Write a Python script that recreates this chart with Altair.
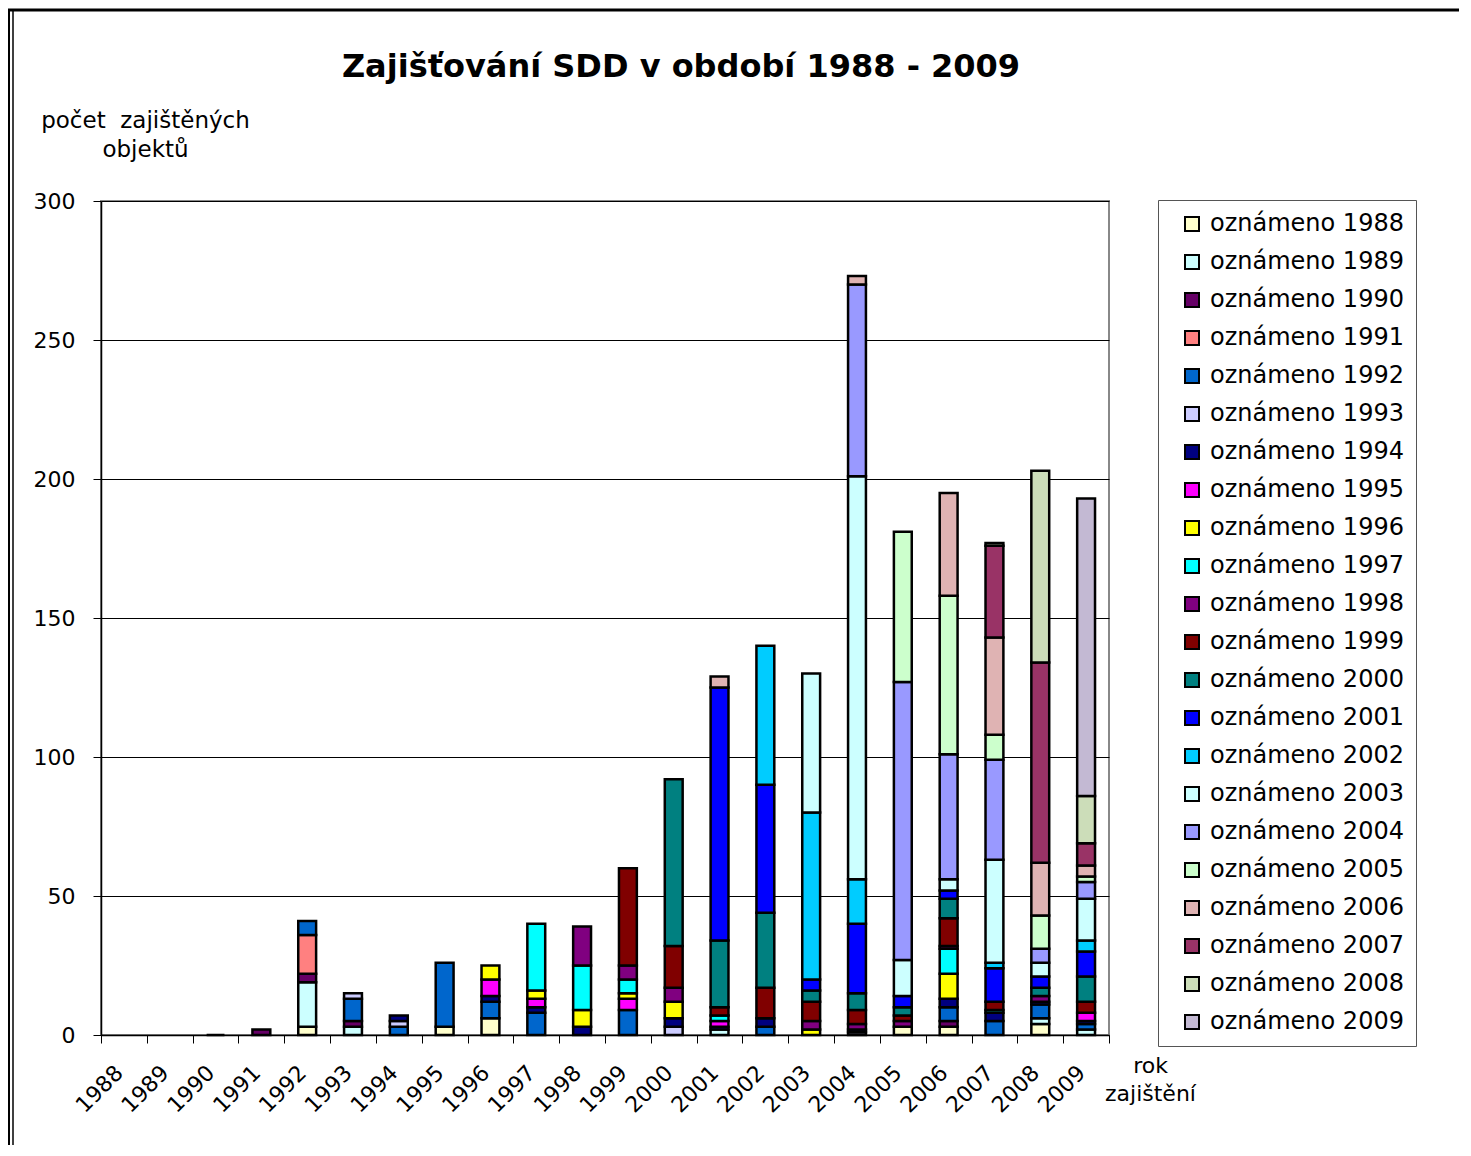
import altair as alt
import pandas as pd

years = [str(y) for y in range(1988, 2010)]
series_names = ["oznámeno " + y for y in years]
N = None

# values per "oznámeno" series, indexed by rok zajištění 1988..2009
s1988 = [N, N, N, N, 3, N, N, 3, 6, N, N, N, N, N, N, N, N, 3, 3, N, 4, N]
s1989 = [N, N, N, N, 16, 3, N, N, N, N, N, N, N, 2, N, N, N, N, N, N, 2, 2]
s1990 = [N, N, 0, 2, 3, 2, N, N, N, N, N, N, N, N, N, N, N, N, 2, N, N, N]
s1991 = [N, N, N, N, 14, N, N, N, N, N, N, N, N, N, N, N, N, N, N, N, N, N]
s1992 = [N, N, N, N, 5, 8, 3, 23, 6, 8, N, 9, N, N, 3, N, N, N, 5, 5, 5, 2]
s1993 = [N, N, N, N, N, 2, 2, N, N, N, N, N, 3, N, N, N, 1, N, N, N, N, N]
s1994 = [N, N, N, N, N, N, 2, N, 2, 2, 3, N, 3, 1, 3, N, 1, N, 3, 3, 1, 1]
s1995 = [N, N, N, N, N, N, N, N, 6, 3, N, 4, N, 2, N, N, N, N, N, N, N, 3]
s1996 = [N, N, N, N, N, N, N, N, 5, 3, 6, 2, 6, N, N, 2, N, N, 9, N, N, N]
s1997 = [N, N, N, N, N, N, N, N, N, 24, 16, 5, N, 2, N, N, N, N, 9, 1, N, N]
s1998 = [N, N, N, N, N, N, N, N, N, N, 14, 5, 5, N, N, 3, 2, 2, 1, N, 2, N]
s1999 = [N, N, N, N, N, N, N, N, N, N, N, 35, 15, 3, 11, 7, 5, 2, 10, 3, N, 4]
s2000 = [N, N, N, N, N, N, N, N, N, N, N, N, 60, 24, 27, 4, 6, 3, 7, N, 3, 9]
s2001 = [N, N, N, N, N, N, N, N, N, N, N, N, N, 91, 46, 4, 25, 4, 3, 12, 4, 9]
s2002 = [N, N, N, N, N, N, N, N, N, N, N, N, N, N, 50, 60, 16, N, N, 2, N, 4]
s2003 = [N, N, N, N, N, N, N, N, N, N, N, N, N, N, N, 50, 145, 13, 4, 37, 5, 15]
s2004 = [N, N, N, N, N, N, N, N, N, N, N, N, N, N, N, N, 69, 100, 45, 36, 5, 6]
s2005 = [N, N, N, N, N, N, N, N, N, N, N, N, N, N, N, N, N, 54, 57, 9, 12, 2]
s2006 = [N, N, N, N, N, N, N, N, N, N, N, N, N, 4, N, N, 3, N, 37, 35, 19, 4]
s2007 = [N, N, N, N, N, N, N, N, N, N, N, N, N, N, N, N, N, N, N, 33, 72, 8]
s2008 = [N, N, N, N, N, N, N, N, N, N, N, N, N, N, N, N, N, N, N, 1, 69, 17]
s2009 = [N, N, N, N, N, N, N, N, N, N, N, N, N, N, N, N, N, N, N, N, N, 107]

series_values = [s1988, s1989, s1990, s1991, s1992, s1993, s1994, s1995, s1996,
                 s1997, s1998, s1999, s2000, s2001, s2002, s2003, s2004, s2005,
                 s2006, s2007, s2008, s2009]

colors = ["#FFFFCC", "#CCFFFF", "#660066", "#FF8080", "#0066CC", "#CCCCFF",
          "#000080", "#FF00FF", "#FFFF00", "#00FFFF", "#800080", "#800000",
          "#008080", "#0000FF", "#00CCFF", "#CCFFFF", "#9999FF", "#CCFFCC",
          "#DFB3B3", "#993366", "#CCDDB9", "#C3B9D3"]

y_ticks = [0, 50, 100, 150, 200, 250, 300]

rows = []
for i, (name, vals) in enumerate(zip(series_names, series_values)):
    for yr, v in zip(years, vals):
        if v is not None:
            rows.append({"rok": yr, "serie": name, "idx": i, "pocet": v})
df = pd.DataFrame(rows)

FONT = "DejaVu Sans"

bars = alt.Chart(df).mark_bar(
    stroke="black", strokeWidth=2.5, width=alt.RelativeBandSize(0.39)
).encode(
    x=alt.X(
        "rok:N",
        sort=years,
        scale=alt.Scale(domain=years, paddingInner=0, paddingOuter=0),
        axis=alt.Axis(
            grid=False, tickBand="extent", tickSize=8, tickColor="black",
            domainColor="black", domainWidth=1.5,
            labelAngle=315, labelAlign="right", labelBaseline="middle",
            labelFontSize=22, labelFont=FONT, labelColor="black",
            labelPadding=26, labelOffset=-5,
            title=["rok", "zajištění"], titleAngle=0, titleX=1049, titleY=37,
            titleAlign="center", titleBaseline="alphabetic", titleFontSize=22,
            titleFont=FONT, titleFontWeight="normal", titleLineHeight=28,
            titleColor="black",
        ),
    ),
    y=alt.Y(
        "pocet:Q",
        stack="zero",
        scale=alt.Scale(domain=[0, 300], nice=False),
        axis=alt.Axis(
            values=y_ticks, grid=True, gridColor="#000000", gridWidth=1,
            tickSize=8, tickColor="black", domainColor="black", domainWidth=1.5,
            labelFontSize=22, labelFont=FONT, labelColor="black", labelPadding=18,
            title=["počet\u00a0 zajištěných", "objektů"], titleAngle=0, titleX=44,
            titleY=-74, titleAlign="center", titleBaseline="alphabetic",
            titleFontSize=23, titleFont=FONT, titleFontWeight="normal",
            titleLineHeight=29, titleColor="black",
        ),
    ),
    color=alt.Color(
        "serie:N",
        scale=alt.Scale(domain=series_names, range=colors),
        legend=alt.Legend(
            orient="none", legendX=1057, legendY=-1, title=None,
            strokeColor="#555555", fillColor="white", padding=12,
            labelFontSize=24, labelFont=FONT, labelColor="black", labelLimit=400,
            symbolType="square", symbolSize=196, symbolStrokeColor="black",
            symbolStrokeWidth=2, symbolOpacity=1, symbolOffset=10,
            rowPadding=14, labelOffset=6,
        ),
    ),
    order=alt.Order("idx:Q", sort="ascending"),
)

# decorative outer frame of the chart (double line on the left, line on top)
frame_src = pd.DataFrame({"k": [0]})
frame_top = alt.Chart(frame_src).mark_rule(color="black", strokeWidth=3).encode(
    x=alt.value(-93), x2=alt.value(1358), y=alt.value(-191)
)
frame_left1 = alt.Chart(frame_src).mark_rule(color="black", strokeWidth=2).encode(
    x=alt.value(-92), y=alt.value(-192), y2=alt.value(944)
)
frame_left2 = alt.Chart(frame_src).mark_rule(color="black", strokeWidth=1.5).encode(
    x=alt.value(-88), y=alt.value(-190), y2=alt.value(944)
)

chart = alt.layer(bars, frame_top, frame_left1, frame_left2).properties(
    width=1008,
    height=834,
    title=alt.TitleParams(
        text="Zajišťování SDD v období 1988 - 2009",
        font=FONT, fontSize=32, fontWeight="bold", color="black",
        anchor="middle", frame="group", dx=76, offset=-76,
    ),
    autosize=alt.AutoSizeParams(type="none"),
    padding={"left": 93, "top": 193, "right": 350, "bottom": 110},
).configure_view(stroke="#888888", strokeWidth=2)

chart.save("out.html", embed_options={"renderer": "svg", "actions": False})
